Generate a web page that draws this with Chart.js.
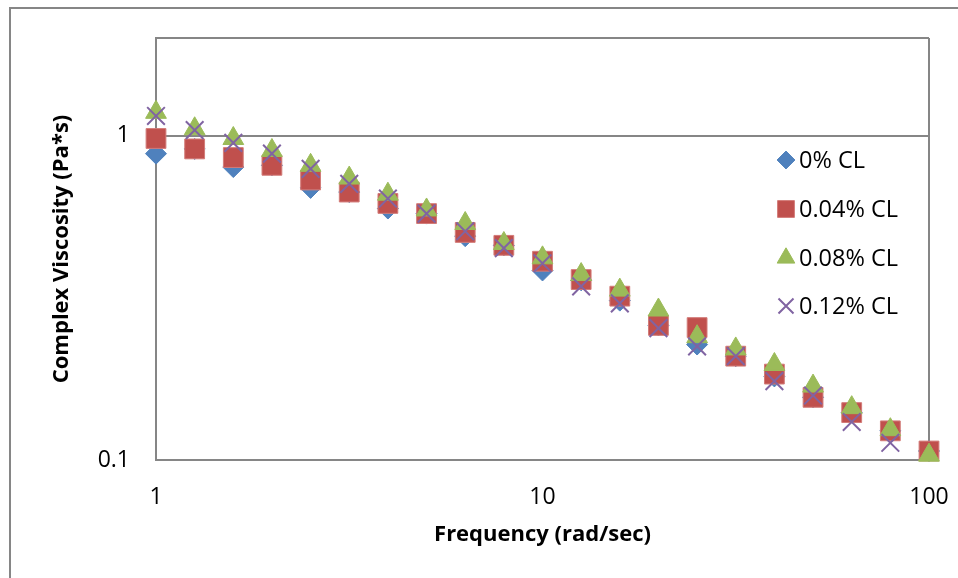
<!DOCTYPE html>
<html>
<head>
<meta charset="utf-8">
<script src="https://cdn.jsdelivr.net/npm/chart.js@4/dist/chart.umd.min.js"></script>
<style>
  html, body { margin: 0; padding: 0; background: #fff; }
</style>
</head>
<body>
<canvas id="viscosity-chart" width="958" height="578"></canvas>
<script>
/* data */
const frequency = [1, 1.259, 1.585, 1.995, 2.512, 3.162, 3.981, 5.012, 6.31, 7.943, 10,
                   12.59, 15.85, 19.95, 25.12, 31.62, 39.81, 50.12, 63.1, 79.43, 100];
const cl000 = [0.88, 0.91, 0.80, 0.81, 0.69, 0.67, 0.596, 0.575, 0.49, 0.459, 0.384,
               0.358, 0.31, 0.26, 0.227, 0.209, 0.181, 0.156, 0.14, 0.123, 0.1066];
const cl004 = [0.98, 0.91, 0.856, 0.81, 0.73, 0.67, 0.618, 0.575, 0.503, 0.459, 0.41,
               0.36, 0.32, 0.26, 0.256, 0.209, 0.184, 0.156, 0.14, 0.123, 0.1066];
const cl008 = [1.18, 1.05, 0.98, 0.90, 0.81, 0.74, 0.66, 0.59, 0.536, 0.465, 0.42,
               0.373, 0.334, 0.29, 0.24, 0.22, 0.197, 0.169, 0.145, 0.124, 0.1035];
const cl012 = [1.15, 1.04, 0.95, 0.88, 0.79, 0.71, 0.64, 0.575, 0.507, 0.45, 0.404,
               0.343, 0.304, 0.255, 0.224, 0.209, 0.175, 0.158, 0.131, 0.113, null];

const seriesLabels = ['0% CL', '0.04% CL', '0.08% CL', '0.12% CL'];
const xTicks = [1, 10, 100];
const yTicks = [0.1, 1, 2];

const gridGray = '#868686';
const fontFamily = "'Open Sans', 'Noto Sans', sans-serif";

/* turn a list of y values into scatter points */
function toPoints(values) {
    return frequency.map((f, i) => ({x: f, y: values[i]})).filter(p => p.y !== null);
}

const seriesStyles = [
    {style: 'rectRot',  radius: 10.5, fill: '#4F81BD', border: '#4F81BD', bw: 1},
    {style: 'rect',     radius: 14,   fill: '#C0504D', border: '#D37C79', bw: 1},
    {style: 'triangle', radius: 12,   fill: '#9BBB59', border: '#9BBB59', bw: 1},
    {style: 'crossRot', radius: 12.5, fill: '#8064A2', border: '#8064A2', bw: 2},
];

/* outer frame and legend drawn by hand */
const extrasPlugin = {
    id: 'extras',
    beforeDraw(chart) {
        const ctx = chart.ctx;
        ctx.save();
        ctx.strokeStyle = gridGray;
        ctx.lineWidth = 2;
        ctx.strokeRect(10, 8, 1000, 1000);
        ctx.restore();
    },
    afterDraw(chart) {
        const ctx = chart.ctx;
        const rows = [160, 209, 258, 306];
        ctx.save();
        seriesLabels.forEach((label, i) => {
            const s = seriesStyles[i];
            ctx.fillStyle = s.fill;
            ctx.strokeStyle = s.border;
            ctx.lineWidth = s.bw;
            Chart.helpers.drawPoint(ctx, {
                pointStyle: s.style,
                radius: s.radius * 0.85,
                rotation: 0,
                borderWidth: s.bw
            }, 786, rows[i]);
            ctx.fillStyle = '#000';
            ctx.font = '23.5px ' + fontFamily;
            ctx.textBaseline = 'middle';
            ctx.fillText(label, 799, rows[i] + 1);
        });
        ctx.restore();
    }
};

const datasetsRaw = [cl000, cl004, cl008, cl012];

var ctx = document.getElementById('viscosity-chart');
var viscosityChart = new Chart(ctx, {
    type: 'scatter',
    data: {
        datasets: datasetsRaw.map((vals, i) => ({
            label: seriesLabels[i],
            data: toPoints(vals),
            pointStyle: seriesStyles[i].style,
            pointRadius: seriesStyles[i].radius,
            pointBackgroundColor: seriesStyles[i].fill,
            pointBorderColor: seriesStyles[i].border,
            pointBorderWidth: seriesStyles[i].bw,
            order: 4 - i,
            clip: false
        }))
    },
    options: {
        responsive: false,
        animation: false,
        layout: {padding: {left: 0, top: 38, right: 29, bottom: 0}},
        plugins: {
            legend: {display: false},
            tooltip: {enabled: false}
        },
        scales: {
            x: {
                type: 'logarithmic',
                min: 1,
                max: 100,
                afterBuildTicks: s => { s.ticks = xTicks.map(v => ({value: v})); },
                afterFit: s => { s.height = 118; s.paddingLeft = 0; s.paddingRight = 0; },
                ticks: {
                    color: '#000',
                    padding: 24,
                    maxRotation: 0,
                    font: {family: fontFamily, size: 23},
                    callback: v => String(v)
                },
                grid: {
                    drawTicks: false,
                    lineWidth: 2,
                    color: c => (c.tick && c.tick.value === 10) ? 'rgba(0,0,0,0)' : gridGray
                },
                border: {color: gridGray, width: 2},
                title: {
                    display: true,
                    text: 'Frequency (rad/sec)',
                    color: '#000',
                    font: {family: fontFamily, size: 22, weight: 'bold'},
                    padding: {top: 0, bottom: 30}
                }
            },
            y: {
                type: 'logarithmic',
                min: 0.1,
                max: 2,
                afterBuildTicks: s => { s.ticks = yTicks.map(v => ({value: v})); },
                afterFit: s => { s.width = 156; s.paddingTop = 0; s.paddingBottom = 0; },
                ticks: {
                    color: '#000',
                    padding: 26,
                    font: {family: fontFamily, size: 23},
                    callback: v => (v === 2 ? '' : String(v))
                },
                grid: {
                    drawTicks: false,
                    lineWidth: 2,
                    color: gridGray
                },
                border: {color: gridGray, width: 2},
                title: {
                    display: true,
                    text: 'Complex Viscosity (Pa*s)',
                    color: '#000',
                    font: {family: fontFamily, size: 22, weight: 'bold'},
                    padding: {top: 49, bottom: 0}
                }
            }
        }
    },
    plugins: [extrasPlugin]
});
</script>
</body>
</html>
